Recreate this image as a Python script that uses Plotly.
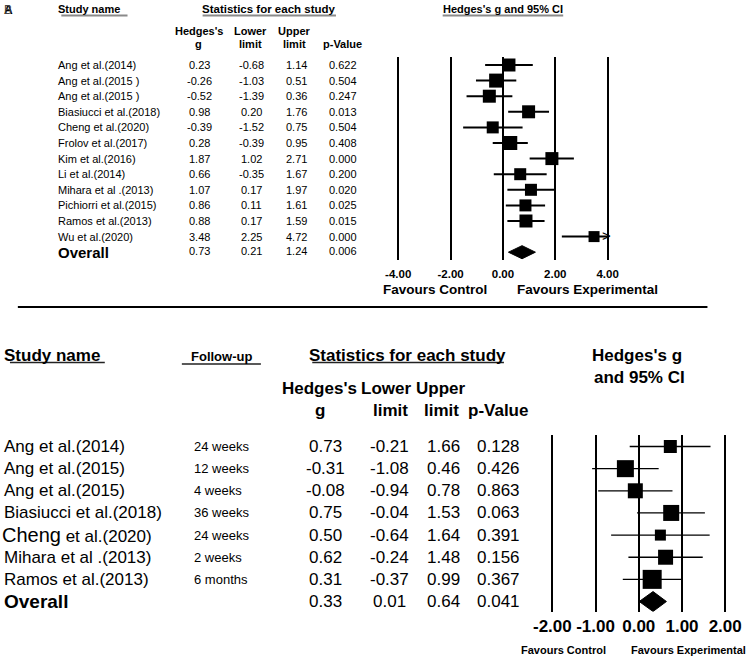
import plotly.graph_objects as go

# ---- data: panel A ----
top_studies = ["Ang et al.(2014)", "Ang et al.(2015 )", "Ang et al.(2015 )", "Biasiucci et al.(2018)",
               "Cheng et al.(2020)", "Frolov et al.(2017)", "Kim et al.(2016)", "Li et al.(2014)",
               "Mihara et al .(2013)", "Pichiorri et al.(2015)", "Ramos et al.(2013)", "Wu et al.(2020)"]
top_g = [0.23, -0.26, -0.52, 0.98, -0.39, 0.28, 1.87, 0.66, 1.07, 0.86, 0.88, 3.48]
top_lo = [-0.68, -1.03, -1.39, 0.20, -1.52, -0.39, 1.02, -0.35, 0.17, 0.11, 0.17, 2.25]
top_hi = [1.14, 0.51, 0.36, 1.76, 0.75, 0.95, 2.71, 1.67, 1.97, 1.61, 1.59, 4.72]
top_p = ["0.622", "0.504", "0.247", "0.013", "0.504", "0.408", "0.000", "0.200", "0.020", "0.025", "0.015", "0.000"]
top_overall = [0.73, 0.21, 1.24]
top_overall_p = "0.006"
top_ticks = [-4, -2, 0, 2, 4]

# ---- data: panel B ----
bot_studies = ["Ang et al.(2014)", "Ang et al.(2015)", "Ang et al.(2015)", "Biasiucci et al.(2018)",
               "<span style='font-size:20px'>Cheng</span> et al.(2020)", "Mihara et al .(2013)", "Ramos et al.(2013)"]
bot_follow = ["24 weeks", "12 weeks", "4 weeks", "36 weeks", "24 weeks", "2 weeks", "6 months"]
bot_g = [0.73, -0.31, -0.08, 0.75, 0.50, 0.62, 0.31]
bot_lo = [-0.21, -1.08, -0.94, -0.04, -0.64, -0.24, -0.37]
bot_hi = [1.66, 0.46, 0.78, 1.53, 1.64, 1.48, 0.99]
bot_p = ["0.128", "0.426", "0.863", "0.063", "0.391", "0.156", "0.367"]
bot_overall = [0.33, 0.01, 0.64]
bot_overall_p = "0.041"
bot_ticks = [-2, -1, 0, 1, 2]

# marker sizes (study weights, px)
top_sizes = [13, 14, 13, 13, 12, 14, 13, 12, 12, 12, 13, 11]
bot_sizes = [13, 17, 15, 16, 11, 15, 19]

W, H = 747, 659
FONT = "Liberation Sans, Arial, sans-serif"
LEFT_SHIFT = -6  # annotation padding correction for left-anchored text


def px(x):
    return x / W


def py(y):
    return 1 - y / H


fig = go.Figure()
ann = []
shapes = []


def txt(x, y, s, size, bold=False, xanchor="center", yref="paper", color="black", family=FONT, shift=None):
    if bold:
        s = "<b>" + s + "</b>"
    if shift is None:
        shift = LEFT_SHIFT if xanchor == "left" else 0
    ann.append(dict(x=px(x), y=(py(y) if yref == "paper" else y), xref="paper", yref=yref,
                    text=s, showarrow=False, xanchor=xanchor, yanchor="middle", xshift=shift,
                    font=dict(size=size, color=color, family=family)))


def forest(g, lo, hi, sizes, overall, xa, ya, lw, xmax, dh):
    n = len(g)
    lx, ly = [], []
    for i in range(n):
        lx += [lo[i], min(hi[i], xmax), None]
        ly += [i, i, None]
        if hi[i] > xmax:
            # CI runs off the scale: open chevron at the axis end
            ann.append(dict(x=xmax, y=i, xref=xa, yref=ya, text="&gt;", showarrow=False,
                            xanchor="right", yanchor="middle", xshift=5, yshift=1,
                            font=dict(size=15, color="black", family=FONT)))
    fig.add_trace(go.Scatter(x=lx, y=ly, mode="lines", line=dict(color="black", width=lw),
                             xaxis=xa, yaxis=ya, hoverinfo="skip", showlegend=False))
    fig.add_trace(go.Scatter(x=g, y=list(range(n)), mode="markers",
                             marker=dict(symbol="square", size=sizes, color="black", opacity=1,
                                         line=dict(width=0)),
                             xaxis=xa, yaxis=ya, showlegend=False, cliponaxis=False))
    og, olo, ohi = overall
    fig.add_trace(go.Scatter(x=[olo, og, ohi, og, olo], y=[n, n - dh, n, n + dh, n],
                             mode="lines", fill="toself", fillcolor="black", line=dict(color="black", width=1),
                             xaxis=xa, yaxis=ya, showlegend=False, hoverinfo="skip"))


forest(top_g, top_lo, top_hi, top_sizes, top_overall, "x", "y", 2, 4.0, 0.42)
forest(bot_g, bot_lo, bot_hi, bot_sizes, bot_overall, "x2", "y2", 1.3, 2.3, 0.45)

# ---- panel A text ----
txt(2, 10, "A", 12, True, "left")
txt(2, 10, "B", 12, False, "left", color="#444")
txt(57, 9, "Study name", 11, True, "left")
txt(266, 9, "Statistics for each study", 11.5, True)
txt(503, 9, "Hedges's g and 95% CI", 11, True)
shapes += [dict(type="line", xref="paper", yref="paper", x0=px(a), x1=px(b), y0=py(15.5), y1=py(15.5),
                line=dict(color="#8a8a8a", width=2)) for a, b in [(56, 123), (199, 334), (442, 564)]]
txt(195, 31, "Hedges's", 11, True)
txt(195, 44, "g", 11, True)
txt(247, 31, "Lower", 11, True)
txt(247, 44, "limit", 11, True)
txt(292, 31, "Upper", 11, True)
txt(292, 44, "limit", 11, True)
txt(341, 44, "p-Value", 11, True)
for i, s in enumerate(top_studies):
    txt(57, i, s, 11, False, "left", "y")
    txt(196, i, f"{top_g[i]:.2f}", 11, False, "center", "y")
    txt(248, i, f"{top_lo[i]:.2f}", 11, False, "center", "y")
    txt(294, i, f"{top_hi[i]:.2f}", 11, False, "center", "y")
    txt(341, i, top_p[i], 11, False, "center", "y")
k = len(top_studies)
txt(57, k, "Overall", 15, True, "left", "y")
txt(196, k - 0.1, f"{top_overall[0]:.2f}", 11, False, "center", "y")
txt(248, k - 0.1, f"{top_overall[1]:.2f}", 11, False, "center", "y")
txt(294, k - 0.1, f"{top_overall[2]:.2f}", 11, False, "center", "y")
txt(341, k - 0.1, top_overall_p, 11, False, "center", "y")
txt(383, 290, "Favours Control", 13.5, True, "left", shift=-3)
txt(517, 290, "Favours Experimental", 13.5, True, "left", shift=-2)

# separator
shapes.append(dict(type="line", xref="paper", yref="paper", x0=px(12), x1=px(710), y0=py(307), y1=py(307),
                   line=dict(color="black", width=2)))

# ---- panel B text ----
txt(4, 355, "Study name", 17, True, "left", shift=-8)
txt(218, 357, "Follow-up", 13, True)
txt(406, 355, "Statistics for each study", 17, True)
txt(639, 355, "Hedges's g", 17, True)
txt(641, 377, "and 95% CI", 17, True)
shapes += [dict(type="line", xref="paper", yref="paper", x0=px(a), x1=px(b), y0=py(yy), y1=py(yy),
                line=dict(color="#222", width=1.5)) for a, b, yy in [(4, 100, 362.5), (178, 258, 364), (310, 504, 362.5)]]
txt(317, 388, "Hedges's", 17, True)
txt(318, 410, "g", 17, True)
txt(385, 388, "Lower", 17, True)
txt(389, 410, "limit", 17, True)
txt(440, 388, "Upper", 17, True)
txt(441, 410, "limit", 17, True)
txt(498, 410, "p-Value", 17, True)
for i, s in enumerate(bot_studies):
    txt(4 if i != 4 else 2, i, s, 17, False, "left", "y2", shift=-8)
    txt(194, i, bot_follow[i], 13, False, "left", "y2")
    txt(323, i, f"{bot_g[i]:.2f}", 17, False, "center", "y2")
    txt(388, i, f"{bot_lo[i]:.2f}", 17, False, "center", "y2")
    txt(443, i, f"{bot_hi[i]:.2f}", 17, False, "center", "y2")
    txt(498, i, bot_p[i], 17, False, "center", "y2")
k = len(bot_studies)
txt(4, k, "Overall", 19, True, "left", "y2", shift=-8)
txt(323, k, f"{bot_overall[0]:.2f}", 17, False, "center", "y2")
txt(388, k, f"{bot_overall[1]:.2f}", 17, False, "center", "y2")
txt(443, k, f"{bot_overall[2]:.2f}", 17, False, "center", "y2")
txt(498, k, bot_overall_p, 17, False, "center", "y2")
txt(517, 650, "Favours Control", 11, True, "left", shift=2)
txt(628, 650, "Favours Experimental", 11, True, "left", shift=3)

axis_common = dict(showgrid=True, gridcolor="black", zeroline=False, showline=False, ticks="",
                   fixedrange=True)
fig.update_layout(
    width=W, height=H, margin=dict(l=0, r=0, t=0, b=0),
    paper_bgcolor="white", plot_bgcolor="white", showlegend=False,
    font=dict(family=FONT, color="black"),
    xaxis=dict(domain=[px(383.75), px(622.25)], range=[-4.5, 4.5], anchor="y",
               tickvals=top_ticks, ticktext=[f"<b>{t:.2f}</b>" for t in top_ticks], gridwidth=2,
               tickfont=dict(size=11.5, family=FONT), ticklabelstandoff=5, **axis_common),
    yaxis=dict(domain=[py(260), py(57.2)], range=[12.5, -0.5], anchor="x", visible=False),
    xaxis2=dict(domain=[px(539.9), px(741.1)], range=[-2.3, 2.3], anchor="y2",
                tickvals=bot_ticks, ticktext=[f"<b>{t:.2f}</b>" for t in bot_ticks], gridwidth=1.5,
                tickfont=dict(size=17, family=FONT), ticklabelstandoff=2, **axis_common),
    yaxis2=dict(domain=[py(611.7), py(435)], range=[7.46, -0.52], anchor="x2", visible=False),
    annotations=ann, shapes=shapes,
)

fig.write_html("out.html", config={"displayModeBar": False},
               post_script="document.body.style.margin='0';")
